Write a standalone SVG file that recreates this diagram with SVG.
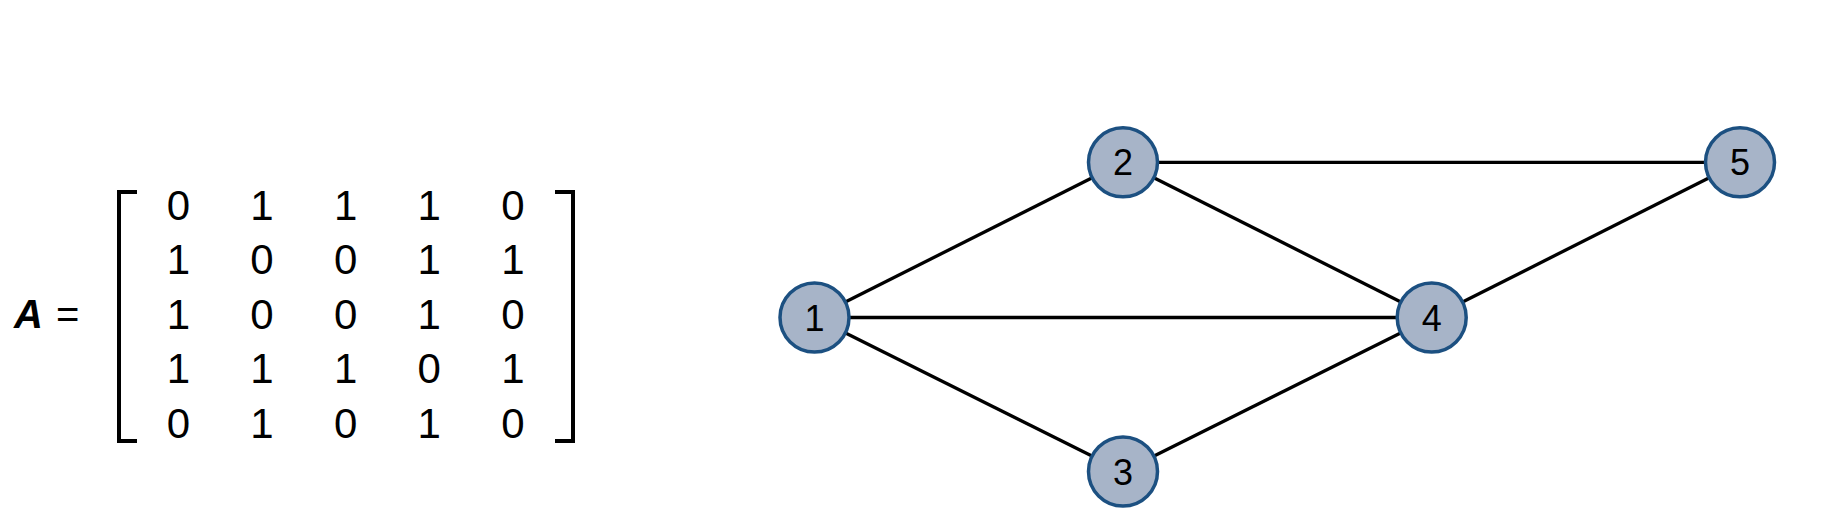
<svg xmlns="http://www.w3.org/2000/svg" width="1834" height="528" viewBox="0 0 1834 528">
<style>
  .m { font-family: "Liberation Sans", Arial, sans-serif; font-size: 42px; fill: #000; text-anchor: middle; }
  .lbl { font-family: "Liberation Sans", Arial, sans-serif; font-size: 36px; fill: #000; text-anchor: middle; }
  .node { fill: #a7b4c8; stroke: #1c5081; stroke-width: 3.5; }
  .edge { stroke: #000; stroke-width: 3.3; fill: none; }
  .br { stroke: #000; stroke-width: 4; fill: none; }
  .a { font-family: "Liberation Sans", Arial, sans-serif; font-size: 40px; fill: #000; }
</style>
<rect width="1834" height="528" fill="#fff"/>
<g id="matrix">
  <text class="a" x="14" y="328" font-weight="bold" font-style="italic">A</text>
  <text class="a" x="56" y="328">=</text>
  <path class="br" d="M137,192 H119 V441 H137"/>
  <path class="br" d="M555,192 H573 V441 H555"/>
  <g class="m">
    <text x="178.5" y="219.5">0</text><text x="262" y="219.5">1</text><text x="345.7" y="219.5">1</text><text x="429.3" y="219.5">1</text><text x="513" y="219.5">0</text>
    <text x="178.5" y="274">1</text><text x="262" y="274">0</text><text x="345.7" y="274">0</text><text x="429.3" y="274">1</text><text x="513" y="274">1</text>
    <text x="178.5" y="328.5">1</text><text x="262" y="328.5">0</text><text x="345.7" y="328.5">0</text><text x="429.3" y="328.5">1</text><text x="513" y="328.5">0</text>
    <text x="178.5" y="383">1</text><text x="262" y="383">1</text><text x="345.7" y="383">1</text><text x="429.3" y="383">0</text><text x="513" y="383">1</text>
    <text x="178.5" y="437.5">0</text><text x="262" y="437.5">1</text><text x="345.7" y="437.5">0</text><text x="429.3" y="437.5">1</text><text x="513" y="437.5">0</text>
  </g>
</g>
<g id="connectors">
  <line class="edge" x1="814.5" y1="317.5" x2="1123" y2="162.3"/>
  <line class="edge" x1="814.5" y1="317.5" x2="1431.7" y2="317.5"/>
  <line class="edge" x1="814.5" y1="317.5" x2="1123" y2="471.5"/>
  <line class="edge" x1="1123" y1="162.3" x2="1740" y2="162.3"/>
  <line class="edge" x1="1123" y1="162.3" x2="1431.7" y2="317.5"/>
  <line class="edge" x1="1123" y1="471.5" x2="1431.7" y2="317.5"/>
  <line class="edge" x1="1431.7" y1="317.5" x2="1740" y2="162.3"/>
</g>
<g id="node1"><circle class="node" cx="814.5" cy="317.5" r="34.5"/><text class="lbl" x="814.5" y="330.5">1</text></g>
<g id="node2"><circle class="node" cx="1123" cy="162.3" r="34.5"/><text class="lbl" x="1123" y="175.3">2</text></g>
<g id="node3"><circle class="node" cx="1123" cy="471.5" r="34.5"/><text class="lbl" x="1123" y="484.5">3</text></g>
<g id="node4"><circle class="node" cx="1431.7" cy="317.5" r="34.5"/><text class="lbl" x="1431.7" y="330.5">4</text></g>
<g id="node5"><circle class="node" cx="1740" cy="162.3" r="34.5"/><text class="lbl" x="1740" y="175.3">5</text></g>
</svg>
